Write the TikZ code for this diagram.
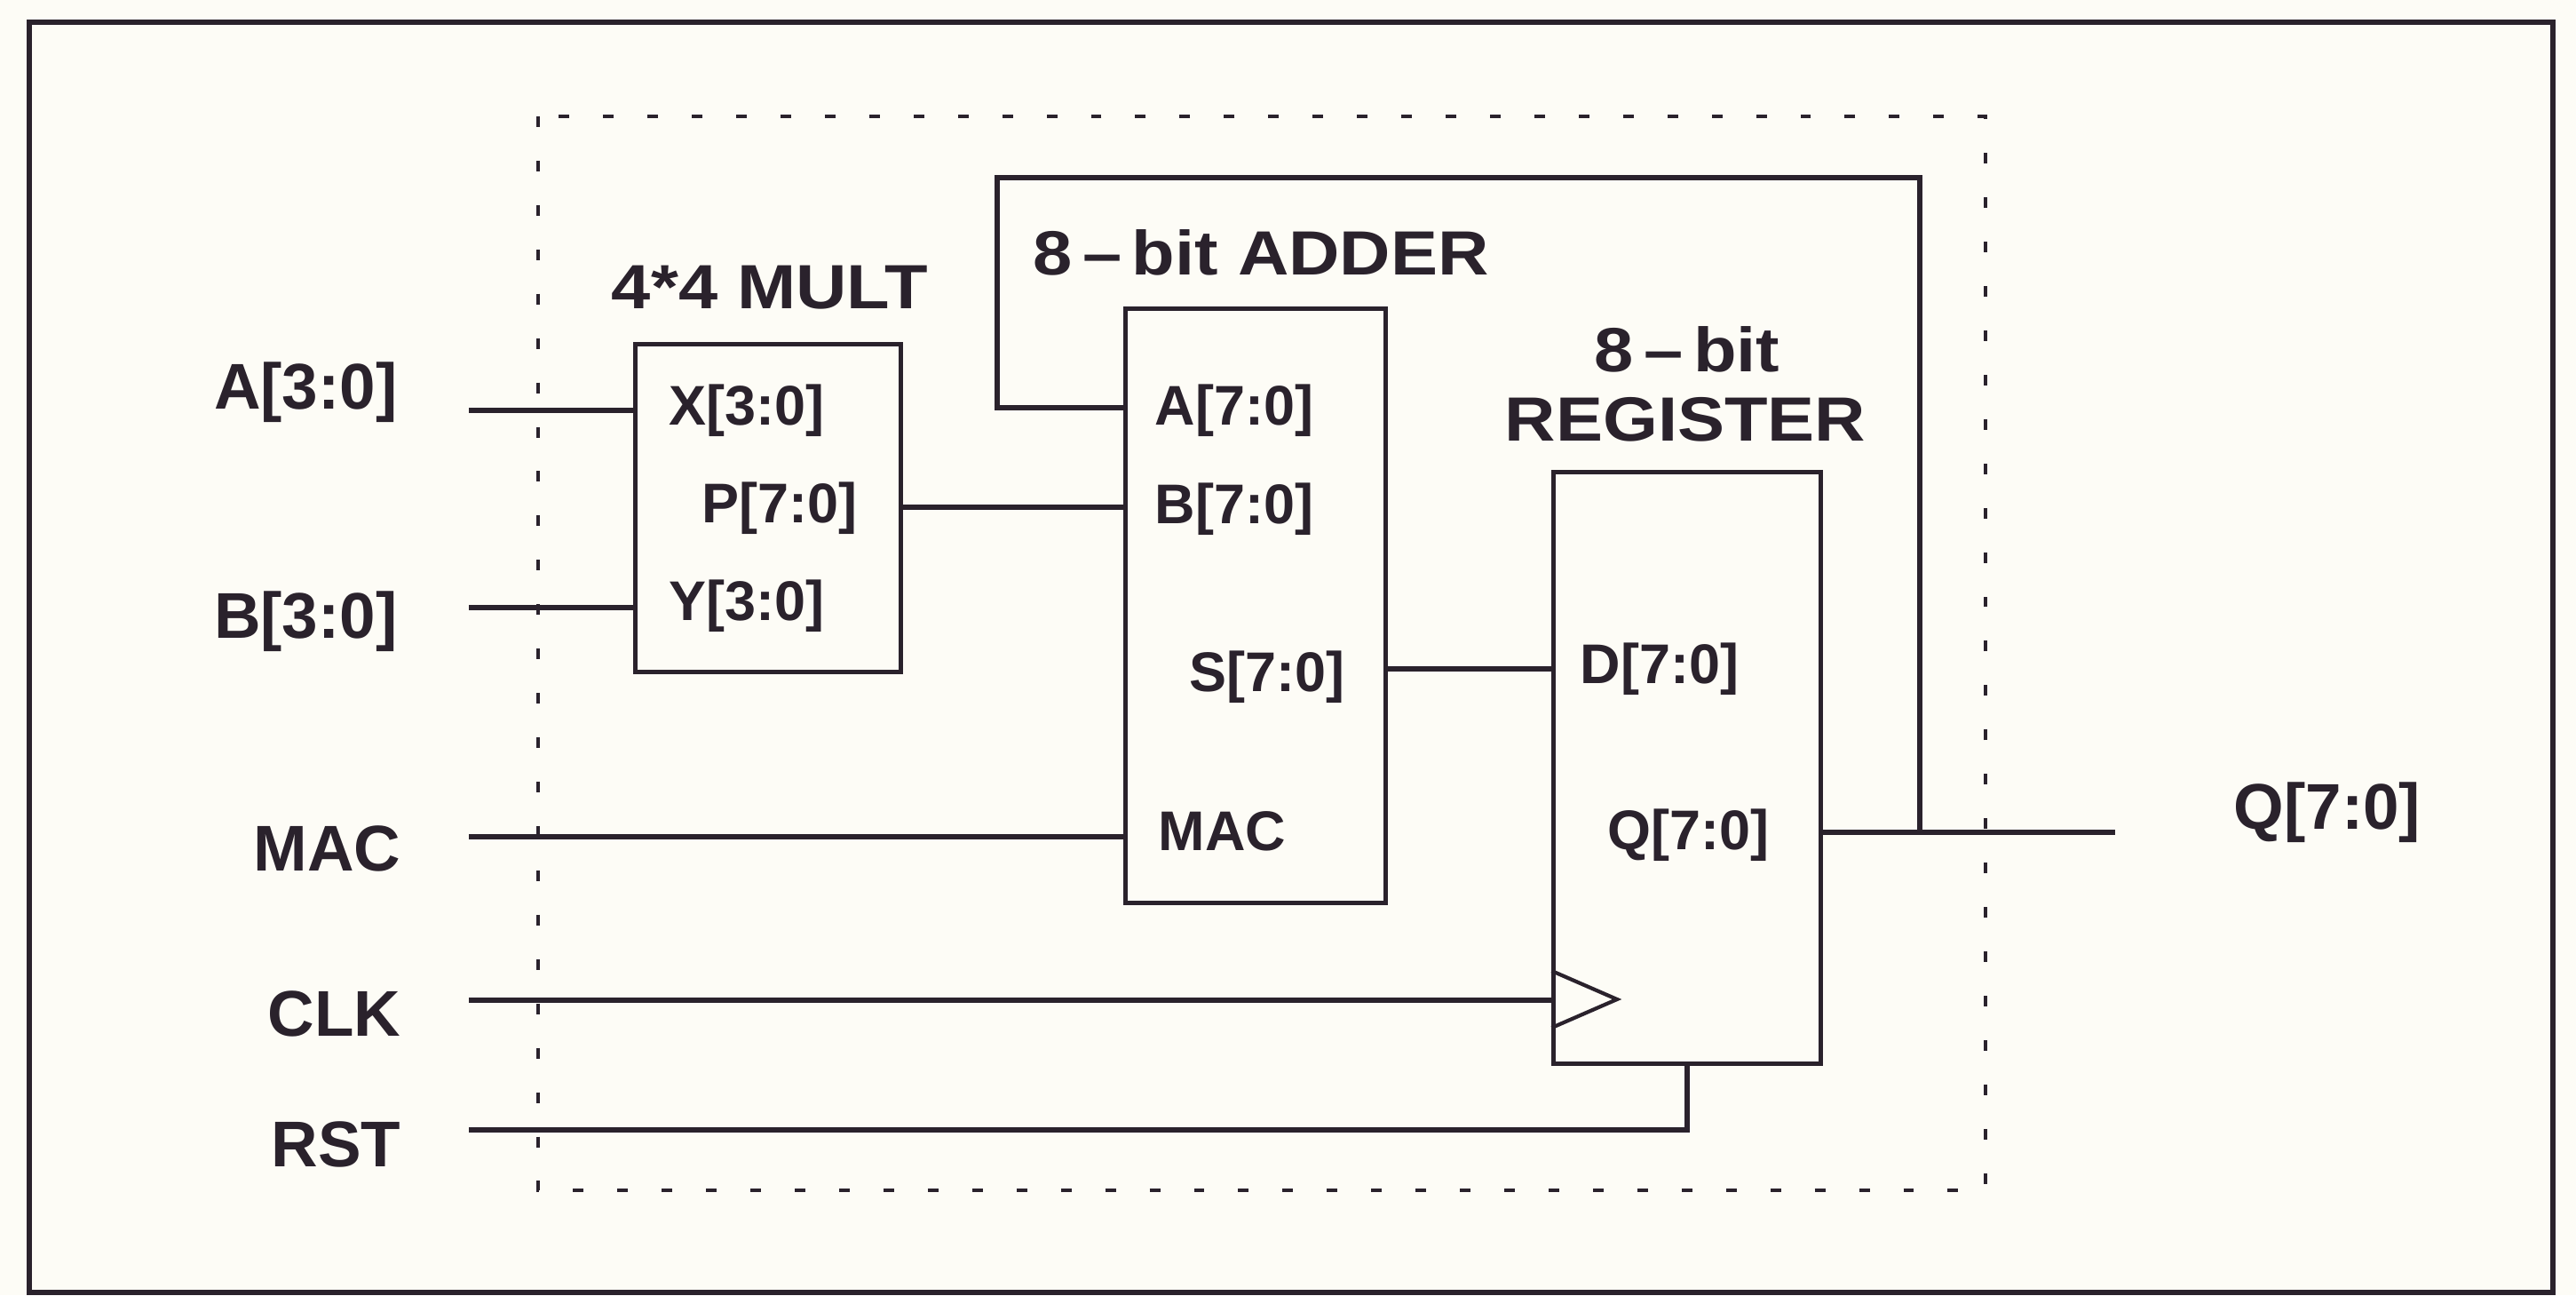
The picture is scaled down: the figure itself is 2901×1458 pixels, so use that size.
\documentclass[tikz,border=0pt]{standalone}
\usepackage{fontspec}
\setmainfont{Liberation Sans}
\newfontfamily\ttlfont{Liberation Sans}[FakeStretch=1.13]
\definecolor{ink}{RGB}{42,34,44}
\definecolor{paper}{RGB}{253,252,246}
\begin{document}
\begin{tikzpicture}[x=0.01cm,y=-0.01cm,
  wire/.style={draw=ink, line width=1.6pt},
  blk/.style={draw=ink, line width=1.4pt, rectangle, inner sep=0pt},
  frame/.style={draw=ink, line width=1.6pt},
  dashbox/.style={draw=ink, line width=1.3pt, dash pattern=on 3.4pt off 10.8pt},
  outlbl/.style={anchor=base east, inner sep=0pt, text=ink, font=\fontsize{20.7}{24}\selectfont\bfseries},
  outlblr/.style={anchor=base west, inner sep=0pt, text=ink, font=\fontsize{20.7}{24}\selectfont\bfseries},
  portlbl/.style={anchor=base west, inner sep=0pt, text=ink, font=\fontsize{17.9}{21}\selectfont\bfseries},
  ttl/.style={anchor=base, inner sep=0pt, text=ink, font=\ttlfont\fontsize{20}{24}\selectfont\bfseries}]
\fill[paper] (0,0) rectangle (2901,1458);
\useasboundingbox (0,0) rectangle (2901,1458);
% outer frame and dashed chip boundary
\draw[frame] (33,25) rectangle (2875,1455);
\draw[dashbox] (606,131) rectangle (2236,1340);
% blocks
\node[blk, minimum width=2.98cm, minimum height=3.68cm] (mult) at (865,572) {};
\node[blk, minimum width=2.92cm, minimum height=6.68cm] (adder) at (1414,682) {};
\node[blk, minimum width=3.00cm, minimum height=6.65cm] (reg) at (1900,864.5) {};
% titles
\node[ttl] (tmult) at (867,348) {4*4 MULT};
\node[ttl] (tadd) at (1420,310) {8\,–\,bit ADDER};
\node[ttl] (treg1) at (1900,419) {8\,–\,bit};
\node[ttl] (treg2) at (1898,496) {REGISTER};
% outer labels
\node[outlbl] (lA) at (448,460) {A[3:0]};
\node[outlbl] (lB) at (448,718) {B[3:0]};
\node[outlbl] (lMAC) at (452,980) {MAC};
\node[outlbl] (lCLK) at (452,1166) {CLK};
\node[outlbl] (lRST) at (452,1313) {RST};
\node[outlblr] (lQ) at (2515,933) {Q[7:0]};
% port labels
\node[portlbl] (pX) at (753,478) {X[3:0]};
\node[portlbl] (pP) at (790,588) {P[7:0]};
\node[portlbl] (pY) at (753,698) {Y[3:0]};
\node[portlbl] (pA) at (1300,478) {A[7:0]};
\node[portlbl] (pB) at (1300,589) {B[7:0]};
\node[portlbl] (pS) at (1339,778) {S[7:0]};
\node[portlbl] (pM) at (1304,957) {MAC};
\node[portlbl] (pD) at (1779,769) {D[7:0]};
\node[portlbl] (pQ) at (1810,956) {Q[7:0]};
% wire end points
\coordinate (inA) at (528,462);
\coordinate (inB) at (528,684);
\coordinate (inMAC) at (528,942);
\coordinate (inCLK) at (528,1126);
\coordinate (inRST) at (528,1272);
\coordinate (yP) at (0,571);
\coordinate (yS) at (0,753);
\coordinate (yQ) at (0,937);
\coordinate (yFA) at (0,459);
\coordinate (qj) at (2162,937);
\coordinate (qout) at (2382,937);
\coordinate (loopTL) at (1123,200);
\coordinate (ckT) at (0,1093);
\coordinate (ckB) at (0,1157);
\coordinate (ckTip) at (1821,1125);
% connectors
\draw[wire] (inA) -- (inA -| mult.west);
\draw[wire] (inB) -- (inB -| mult.west);
\draw[wire] (mult.east |- yP) -- (adder.west |- yP);
\draw[wire] (adder.east |- yS) -- (reg.west |- yS);
\draw[wire] (inMAC) -- (inMAC -| adder.west);
\draw[wire] (reg.east |- yQ) -- (qout);
\draw[wire] (qj) |- (loopTL) |- (adder.west |- yFA);
\draw[wire] (inCLK) -- (inCLK -| reg.west);
\draw[wire] (inRST) -| (reg.south);
\draw[draw=ink, line width=1.2pt, line join=miter] (reg.west |- ckT) -- (ckTip) -- (reg.west |- ckB);
\end{tikzpicture}
\end{document}
